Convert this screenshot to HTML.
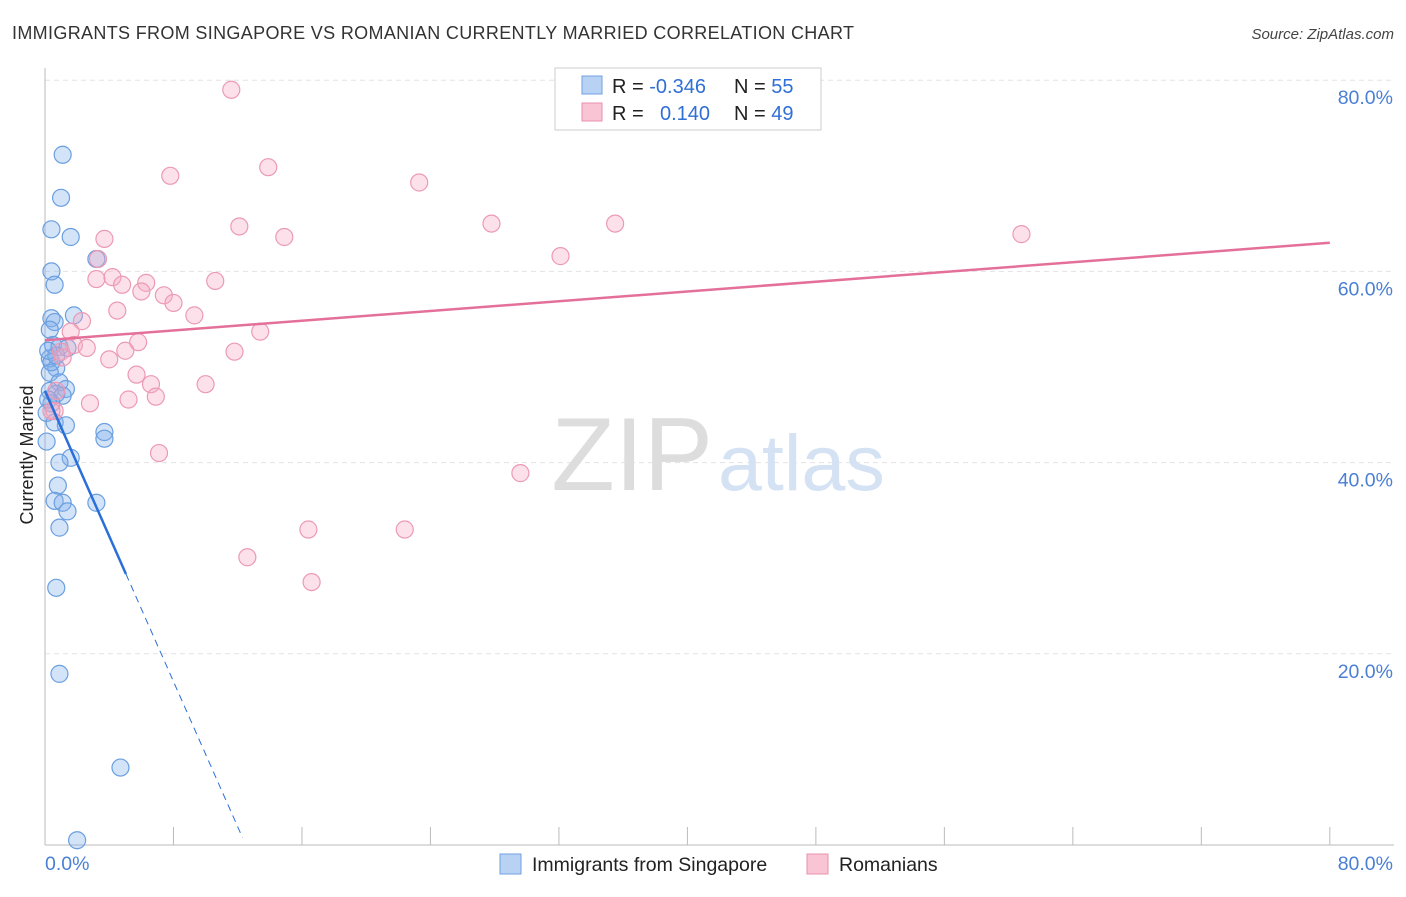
<!DOCTYPE html>
<html><head><meta charset="utf-8"><style>
body{margin:0;background:#fff;font-family:"Liberation Sans",sans-serif}
svg text{font-family:"Liberation Sans",sans-serif}
</style></head><body>
<svg width="1406" height="892" viewBox="0 0 1406 892">
<text x="12" y="39" font-size="18" fill="#333" textLength="842">IMMIGRANTS FROM SINGAPORE VS ROMANIAN CURRENTLY MARRIED CORRELATION CHART</text>
<text x="1394" y="39" font-size="15" fill="#444" font-style="italic" text-anchor="end">Source: ZipAtlas.com</text>
<g id="grid"></g>
<g id="axes"></g>
<text x="713" y="490" font-size="104" fill="#ddd" font-family="Liberation Serif" text-anchor="end">ZIP</text>
<text x="718" y="490" font-size="79" fill="#d4e2f4">atlas</text>
<g id="pts"></g>
<g id="lines"></g>
<text transform="translate(33,455) rotate(-90)" font-size="18" fill="#222" text-anchor="middle">Currently Married</text>
<g>
<rect x="555" y="68" width="266" height="62" fill="#fff" stroke="#ccc"/>
<rect x="582" y="76" width="20" height="18" fill="#b8d2f4" stroke="#6fa0e0"/>
<rect x="582" y="103" width="20" height="18" fill="#f9c4d3" stroke="#e891ab"/>
<text x="612" y="93" font-size="20" fill="#222">R = <tspan fill="#2f6fd6">-0.346</tspan><tspan x="734">N = </tspan><tspan fill="#2f6fd6">55</tspan></text>
<text x="612" y="120" font-size="20" fill="#222">R = <tspan x="660" fill="#2f6fd6">0.140</tspan><tspan x="734">N = </tspan><tspan fill="#2f6fd6">49</tspan></text>
</g>
<g>
<rect x="500" y="854" width="21" height="20" fill="#b8d2f4" stroke="#6fa0e0"/>
<text x="532" y="871" font-size="19.5" fill="#222">Immigrants from Singapore</text>
<rect x="807" y="854" width="21" height="20" fill="#f9c4d3" stroke="#e891ab"/>
<text x="839" y="871" font-size="19.5" fill="#222">Romanians</text>
</g>
</svg>
<script>
const xTicks=[0,8,16,24,32,40,48,56,64,72,80];
const yTicks=[20,40,60,80];
const yTickLabels=["20.0%","40.0%","60.0%","80.0%"];
const blueX=[1.1,1.0,0.4,1.6,0.4,0.6,3.2,1.8,0.4,0.6,0.3,0.5,0.9,1.4,0.3,0.7,0.3,0.9,1.3,0.3,0.7,1.1,0.4,0.1,0.6,1.3,3.7,3.7,0.1,1.6,0.9,0.8,0.6,1.1,3.2,1.4,0.9,0.7,0.9,4.7,2.0,0.2,0.4,0.7,0.2];
const blueY=[72.2,67.7,64.4,63.6,60.0,58.6,61.3,55.4,55.1,54.7,53.9,52.3,52.1,52.0,50.9,49.9,49.4,48.4,47.7,47.5,47.2,47.0,46.2,45.2,44.2,43.9,43.2,42.5,42.2,40.5,40.0,37.6,36.0,35.8,35.8,34.9,33.2,26.9,17.9,8.1,0.5,46.6,50.5,51.2,51.7];
const pinkX=[11.6,13.9,7.8,23.3,12.1,27.8,35.5,60.8,3.7,14.9,32.1,3.3,4.2,3.2,10.6,6.3,4.8,6.0,7.4,8.0,9.3,4.5,2.3,1.6,13.4,5.8,1.8,2.6,1.0,5.0,11.8,4.0,1.1,5.7,6.6,10.0,6.9,5.2,2.8,0.6,7.1,29.6,16.4,22.4,12.6,16.6,0.7,0.4];
const pinkY=[79.0,70.9,70.0,69.3,64.7,65.0,65.0,63.9,63.4,63.6,61.6,61.3,59.4,59.2,59.0,58.8,58.6,57.9,57.5,56.7,55.4,55.9,54.8,53.7,53.7,52.6,52.3,52.0,51.6,51.7,51.6,50.8,51.0,49.2,48.2,48.2,46.9,46.6,46.2,45.4,41.0,38.9,33.0,33.0,30.1,27.5,47.5,45.4];
const X=v=>45+v*16.06, Y=v=>845-v*9.56;
const ns="http://www.w3.org/2000/svg";
function mk(t,a,p){const e=document.createElementNS(ns,t);for(const k in a)e.setAttribute(k,a[k]);document.getElementById(p).appendChild(e);return e;}
yTicks.forEach((v,i)=>{
 const l=mk('line',{x1:45,x2:1394,y1:Y(v),y2:Y(v),stroke:'#e3e3e3','stroke-dasharray':'5,4'},'grid');
 
 
 const t=mk('text',{x:1393,y:Y(v)+24,'font-size':19.5,fill:'#4a7fd4','text-anchor':'end'},'grid');
 t.textContent=yTickLabels[i];
 
 
});
const ax=mk('line',{x1:45,x2:1394,y1:845,y2:845,stroke:'#bbb'},'axes');


const ay=mk('line',{x1:45,x2:45,y1:68,y2:845,stroke:'#bbb'},'axes');


xTicks.forEach(v=>{const l=mk('line',{x1:X(v),x2:X(v),y1:827,y2:845,stroke:'#bbb'},'axes');
 
 });
[[0,'0.0%','start',45],[80,'80.0%','end',1393]].forEach(d=>{const t=mk('text',{x:d[3],y:870,'font-size':19.5,fill:'#4a7fd4','text-anchor':d[2]},'axes');t.textContent=d[1];
 
 });
blueX.forEach((v,i)=>{const c=mk('circle',{cx:X(v),cy:Y(blueY[i]),r:8.5,fill:'rgba(130,175,235,0.35)',stroke:'#6a9fe0','stroke-width':1.2},'pts');
 
 });
pinkX.forEach((v,i)=>{const c=mk('circle',{cx:X(v),cy:Y(pinkY[i]),r:8.5,fill:'rgba(245,170,195,0.35)',stroke:'#ec9ab4','stroke-width':1.2},'pts');
 
 });
const b0=47.5,bs=-3.8,bEnd=5.04,bZero=12.3;
const bl=mk('line',{x1:X(0),y1:Y(b0),x2:X(bEnd),y2:Y(b0+bs*bEnd),stroke:'#2a6fd8','stroke-width':2.5},'lines');


const bd=mk('line',{x1:X(bEnd),y1:Y(b0+bs*bEnd),x2:X(bZero),y2:Y(b0+bs*bZero),stroke:'#2a6fd8','stroke-width':1,'stroke-dasharray':'7,5'},'lines');


const p0=52.8,p1=63.0;
const pl=mk('line',{x1:X(0),y1:Y(p0),x2:X(80),y2:Y(p1),stroke:'#e4709a','stroke-width':2.5},'lines');


</script>
</body></html>
